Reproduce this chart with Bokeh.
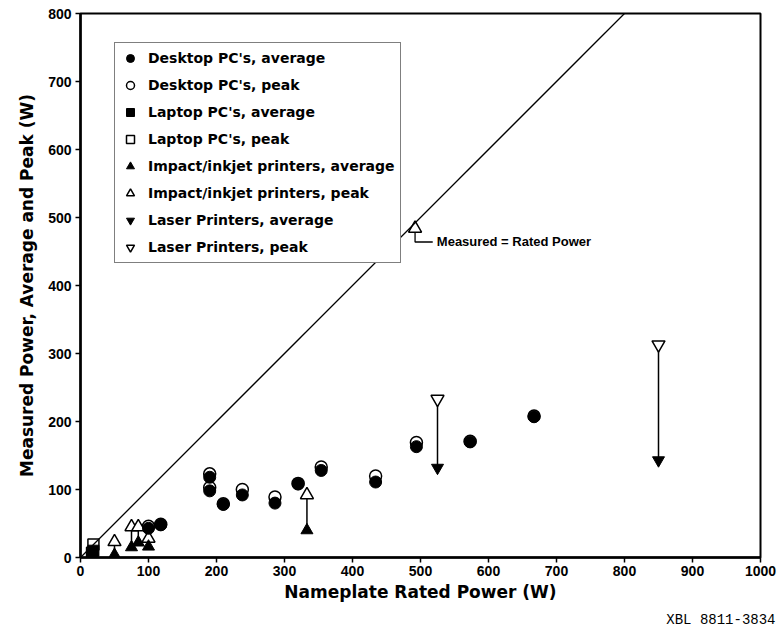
from bokeh.plotting import figure
from bokeh.models import Range1d, Slope, Label, Legend, LegendItem, FixedTicker, Title
from bokeh.embed import file_html
from bokeh.resources import INLINE

# ---- data ----
desktop_x = [100, 118, 190, 190, 210, 238, 286, 320, 354, 434, 494, 573, 667]
desktop_avg = [43, 48, 118, 98, 78, 92, 80, 108, 128, 111, 163, 170, 207]
desktop_peak = [46, 49, 123, 103, 79, 100, 89, 109, 133, 120, 169, 171, 208]

laptop_x = [17, 19]
laptop_avg = [4, 10]
laptop_peak = [7, 19]

impact_x = [50, 75, 85, 100, 333]
impact_avg = [4, 15, 22, 16, 40]
impact_peak = [23, 45, 45, 28, 92]

laser_x = [525, 850]
laser_avg = [132, 143]
laser_peak = [233, 313]

x_ticks = [0, 100, 200, 300, 400, 500, 600, 700, 800, 900, 1000]
y_ticks = [0, 100, 200, 300, 400, 500, 600, 700, 800]

# annotation anchor (Measured = Rated Power)
ann_x = 492
ann_head_y = 484
ann_elbow_y = 464
ann_line_end_x = 518
ann_text_x = 524

FONT = "Liberation Sans"
WIDE = "DejaVu Sans"

p = figure(width=777, height=633, x_range=Range1d(0, 1000), y_range=Range1d(0, 800),
           output_backend="svg", toolbar_location=None,
           min_border_left=80, min_border_right=17, min_border_top=13, min_border_bottom=76)

p.xgrid.grid_line_color = None
p.ygrid.grid_line_color = None
p.outline_line_color = "black"
p.outline_line_width = 2
p.outline_line_alpha = 1

p.xaxis.ticker = FixedTicker(ticks=x_ticks)
p.yaxis.ticker = FixedTicker(ticks=y_ticks)
for ax in (p.xaxis, p.yaxis):
    ax.axis_line_width = 2.5
    ax.axis_line_color = "black"
    ax.major_tick_out = 5
    ax.major_tick_in = 0
    ax.minor_tick_out = 0
    ax.minor_tick_in = 0
    ax.major_tick_line_width = 1.5
    ax.major_label_text_font = FONT
    ax.major_label_text_font_style = "bold"
    ax.major_label_text_font_size = "14px"
    ax.major_label_text_color = "black"
    ax.axis_label_text_font = WIDE
    ax.axis_label_text_font_style = "bold"
    ax.axis_label_text_font_size = "17px"
    ax.axis_label_text_color = "black"
p.xaxis.axis_label = "Nameplate Rated Power (W)"
p.yaxis.axis_label = "Measured Power, Average and Peak (W)"
p.xaxis.major_label_standoff = 3
p.yaxis.major_label_standoff = 4
p.xaxis.axis_label_standoff = 3
p.yaxis.axis_label_standoff = 8

# 1:1 line
p.add_layout(Slope(gradient=1, y_intercept=0, line_color="black", line_width=1.3))

# peak-average connectors for printers
p.segment(x0=impact_x, y0=impact_avg, x1=impact_x, y1=impact_peak, line_color="black", line_width=1.5)
p.segment(x0=laser_x, y0=laser_avg, x1=laser_x, y1=laser_peak, line_color="black", line_width=1.5)

# peaks (open)
r_dp = p.scatter(desktop_x, desktop_peak, marker="circle", size=12, fill_color="white", line_color="black", line_width=1.5)
r_lp = p.scatter(laptop_x, laptop_peak, marker="square", size=11, fill_color="white", line_color="black", line_width=1.5)
r_ip = p.scatter(impact_x, impact_peak, marker="triangle", size=13, fill_color="white", line_color="black", line_width=1.5)
r_sp = p.scatter(laser_x, laser_peak, marker="inverted_triangle", size=13, fill_color="white", line_color="black", line_width=1.5)

# averages (filled)
r_da = p.scatter(desktop_x, desktop_avg, marker="circle", size=12, fill_color="black", line_color="black")
r_la = p.scatter(laptop_x, laptop_avg, marker="square", size=11, fill_color="black", line_color="black")
r_ia = p.scatter(impact_x, impact_avg, marker="triangle", size=12, fill_color="black", line_color="black")
r_sa = p.scatter(laser_x, laser_avg, marker="inverted_triangle", size=12, fill_color="black", line_color="black")

# annotation
p.line([ann_x, ann_x, ann_line_end_x], [ann_head_y, ann_elbow_y, ann_elbow_y], line_color="black", line_width=1.3)
p.scatter([ann_x], [ann_head_y], marker="triangle", size=13, fill_color="white", line_color="black", line_width=1.5)
p.add_layout(Label(x=ann_text_x, y=ann_elbow_y, text="Measured = Rated Power",
                   text_font=FONT, text_font_style="bold", text_font_size="13px",
                   text_baseline="middle", text_align="left", text_color="black"))

# figure id below the plot
p.add_layout(Title(text="XBL 8811-3834", align="right", offset=-15, standoff=10,
                   text_font="Liberation Mono", text_font_size="14px",
                   text_font_style="normal", text_color="black"), "below")

legend = Legend(items=[
    LegendItem(label="Desktop PC's, average", renderers=[r_da]),
    LegendItem(label="Desktop PC's, peak", renderers=[r_dp]),
    LegendItem(label="Laptop PC's, average", renderers=[r_la]),
    LegendItem(label="Laptop PC's, peak", renderers=[r_lp]),
    LegendItem(label="Impact/inkjet printers, average", renderers=[r_ia]),
    LegendItem(label="Impact/inkjet printers, peak", renderers=[r_ip]),
    LegendItem(label="Laser Printers, average", renderers=[r_sa]),
    LegendItem(label="Laser Printers, peak", renderers=[r_sp]),
], location=(34, 294))
legend.label_text_font = WIDE
legend.label_text_font_style = "bold"
legend.label_text_font_size = "14px"
legend.label_text_color = "black"
legend.glyph_width = 20
legend.glyph_height = 20
legend.label_height = 20
legend.label_standoff = 8
legend.spacing = 7
legend.padding = 5
legend.margin = 0
legend.border_line_color = "black"
legend.border_line_width = 1.5
legend.background_fill_color = "white"
legend.background_fill_alpha = 1
p.add_layout(legend)

open("out.html", "w").write(file_html(p, INLINE))
